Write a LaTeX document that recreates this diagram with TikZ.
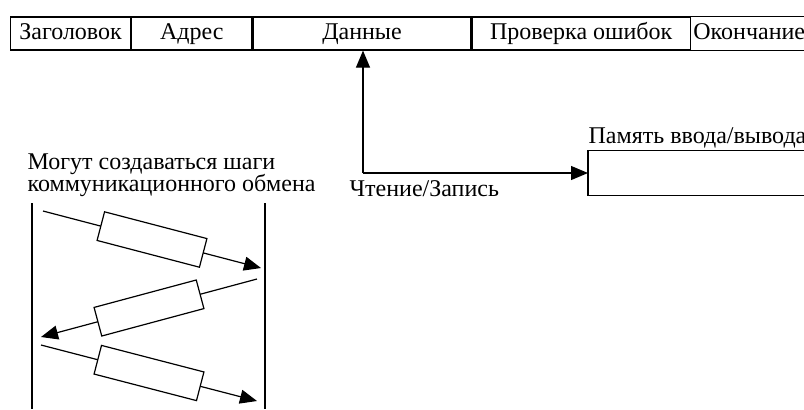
\documentclass[tikz,border=0pt]{standalone}
\usepackage{fontspec}
\setmainfont{Liberation Serif}
\newfontfamily\pktfont{Liberation Serif}
\usetikzlibrary{arrows.meta,positioning}
\tikzset{
  cell/.style={draw, minimum height=16.5pt, inner sep=0pt, text height=1.6ex, text depth=.3ex},
  lbl/.style={inner sep=0pt, anchor=base west},
  msg/.style={draw, fill=white, minimum width=52.9pt, minimum height=14.8pt, inner sep=0pt, sloped},
  arr/.style={-{Triangle[length=8.5pt,width=7pt]}}}

\begin{document}
\begin{tikzpicture}[x=0.5pt, y=-0.5pt, line width=0.6pt, font=\pktfont\fontsize{12}{11.3}\selectfont]
  \useasboundingbox (0,0) rectangle (804,409);
  % packet fields
  \node[cell, minimum width=60pt, anchor=west] (hdr) at (10,33.5) {Заголовок};
  \node[cell, minimum width=60pt, right=0pt of hdr] (adr) {Адрес};
  \node[cell, minimum width=109pt, right=0pt of adr] (dat) {Данные};
  \node[cell, minimum width=109pt, right=0pt of dat] (chk) {Проверка ошибок};
  \node[cell, draw=none, text width=57pt, inner xsep=1pt, align=left, right=0pt of chk] (fin) {Окончание};
  \draw (fin.north west) -- (fin.north east) (fin.south west) -- (fin.south east);
  % read / write
  \coordinate (rw) at (363,173);
  \node[minimum width=108pt, minimum height=22.2pt, inner sep=0pt, anchor=west] (mem) at (588,173) {};
  \draw (mem.north east) -- (mem.north west) -- (mem.south west) -- (mem.south east);
  \node[lbl] (memlbl) at (588,143) {Память ввода/вывода};
  \draw[arr] (rw) -- (rw |- dat.south);
  \draw[arr] (rw) -- (mem.west);
  \node[lbl] (rwlbl) at (349,196) {Чтение/Запись};
  % exchange steps
  \node[lbl, anchor=north west, align=left] (note) at (27,153) {Могут создаваться шаги\\коммуникационного обмена};
  \coordinate (la) at (32,203); \coordinate (lb) at (265,203);
  \draw (la) -- ++(0,206); \draw (lb) -- ++(0,206);
  \coordinate (m1s) at (43,211); \coordinate (m1e) at (261,268);
  \coordinate (m2s) at (257,279); \coordinate (m2e) at (41,337);
  \coordinate (m3s) at (41,345); \coordinate (m3e) at (257,401);
  \draw[arr] (m1s) -- node[msg] (box1) {} (m1e);
  \draw[arr] (m2s) -- node[msg] (box2) {} (m2e);
  \draw[arr] (m3s) -- node[msg] (box3) {} (m3e);
\end{tikzpicture}
\end{document}
